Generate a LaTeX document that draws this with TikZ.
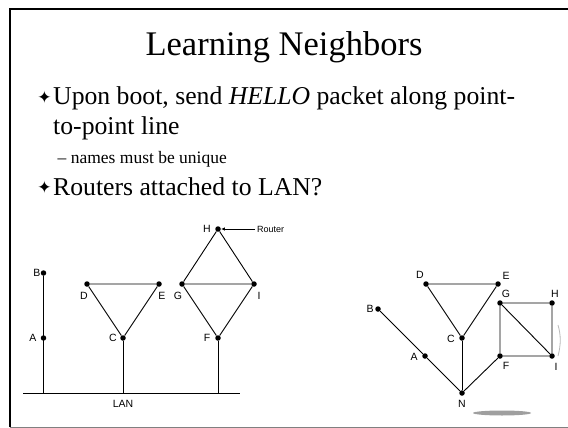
\documentclass[tikz,border=0pt]{standalone}
\usepackage{fontspec}
\setmainfont{Liberation Serif}
\newfontfamily\diagfont{Liberation Sans}
\newfontfamily\symfont{DejaVu Sans}
\usetikzlibrary{arrows.meta}
\begin{document}
\begin{tikzpicture}[x=1pt,y=-1pt,
  dot/.style={circle,fill=black,inner sep=0pt,minimum size=5.5pt},
  lab/.style={font=\diagfont\fontsize{10.5}{10.5}\selectfont,inner sep=0pt},
  wire/.style={line width=0.9pt},
  txt/.style={anchor=base west,inner sep=0pt,font=\fontsize{25.7}{25.7}\selectfont},
  subtxt/.style={anchor=base west,inner sep=0pt,font=\fontsize{17.5}{17.5}\selectfont},
  star/.style={anchor=center,inner sep=0pt,font=\symfont\fontsize{17}{17}\selectfont}]
\useasboundingbox (0,0) rectangle (568,428);

% slide frame
\coordinate (fTL) at (9.5,9);
\coordinate (fBL) at (9.5,427);
\coordinate (fTR) at (568,9);
\coordinate (fBR) at (568,427);
\draw[line width=2pt] (fBL) -- (fTL) -- (fTR);
\draw[gray,line width=1pt] (fBL) -- (fBR);

% title and bullet text
\node[anchor=base,inner sep=0pt,font=\fontsize{34.5}{34.5}\selectfont] (title) at (284,56) {Learning Neighbors};
\node[star] (s1) at (44.5,97.5) {✦};
\node[txt] (b1) at (53,105) {Upon boot, send \textit{HELLO} packet along point-};
\node[txt] (b1b) at (53,135) {to-point line};
\node[subtxt] (sb) at (57.5,163) {– names must be unique};
\node[star] (s2) at (44.5,187.5) {✦};
\node[txt] (b2) at (53,195) {Routers attached to LAN?};

% ---------- left network: routers on a LAN ----------
\coordinate (lanL) at (23,393);
\coordinate (lanR) at (240,393);
\node[dot] (lB) at (43.5,273) {};
\node[dot] (lA) at (43.5,338) {};
\node[dot] (lC) at (123,338) {};
\node[dot] (lD) at (87,284) {};
\node[dot] (lE) at (159,284) {};
\node[dot] (lG) at (182,284) {};
\node[dot] (lI) at (254,284) {};
\node[dot] (lF) at (218,338) {};
\node[dot] (lH) at (218,229) {};
\draw[wire] (lanL) -- (lanR);
\draw[wire] (lB) -- (lB |- lanL);
\draw[wire] (lC) -- (lC |- lanL);
\draw[wire] (lF) -- (lF |- lanL);
\draw[wire] (lD) -- (lE) -- (lC) -- (lD);
\draw[wire] (lG) -- (lI) -- (lH) -- (lG) -- (lF) -- (lI);
\coordinate (rt) at (255,229);
\draw[line width=0.8pt,-{Latex[length=4pt,width=3.5pt]}] (rt) -- (lH.east);
\node[lab,anchor=west,font=\diagfont\fontsize{9}{9}\selectfont] (tRouter) at (257,229) {Router};
\node[lab] (tlB) at (37,273) {B};
\node[lab] (tlA) at (33,338) {A};
\node[lab] (tlD) at (84,296) {D};
\node[lab] (tlE) at (162,296) {E};
\node[lab] (tlC) at (113,338) {C};
\node[lab] (tlG) at (178,296) {G};
\node[lab] (tlI) at (259,296) {I};
\node[lab] (tlF) at (207,338) {F};
\node[lab] (tlH) at (207,229) {H};
\node[lab] (tLAN) at (123,404) {LAN};

% ---------- right network: LAN as a node N ----------
\node[dot] (rD) at (426,284) {};
\node[dot] (rE) at (498,284) {};
\node[dot] (rC) at (462,338) {};
\node[dot] (rN) at (462,393) {};
\node[dot] (rB) at (378,309) {};
\node[dot] (rA) at (425,356) {};
\node[dot] (rG) at (500,303) {};
\node[dot] (rH) at (552,303) {};
\node[dot] (rF) at (500,356) {};
\node[dot] (rI) at (552,356) {};
\draw[wire] (rB) -- (rA) -- (rN) -- (rF);
\draw[wire] (rC) -- (rN);
\draw[wire] (rD) -- (rE) -- (rC) -- (rD);
\draw[wire] (rG) -- (rH) -- (rI) -- (rF) -- (rG) -- (rI);
\node[lab] (trD) at (420,275) {D};
\node[lab] (trE) at (506,276) {E};
\node[lab] (trB) at (370,309) {B};
\node[lab] (trC) at (451,339) {C};
\node[lab] (trA) at (414,357) {A};
\node[lab] (trN) at (462,404) {N};
\node[lab] (trG) at (506,294) {G};
\node[lab] (trH) at (555,294) {H};
\node[lab] (trF) at (506,366) {F};
\node[lab] (trI) at (556,367) {I};

% grey marks beside the right network
\fill[gray!75] (502,413) ellipse (29 and 2.5);
\draw[gray!55,line width=0.8pt] (558,325) .. controls (561,335) and (561,345) .. (558,356);
\end{tikzpicture}
\end{document}
